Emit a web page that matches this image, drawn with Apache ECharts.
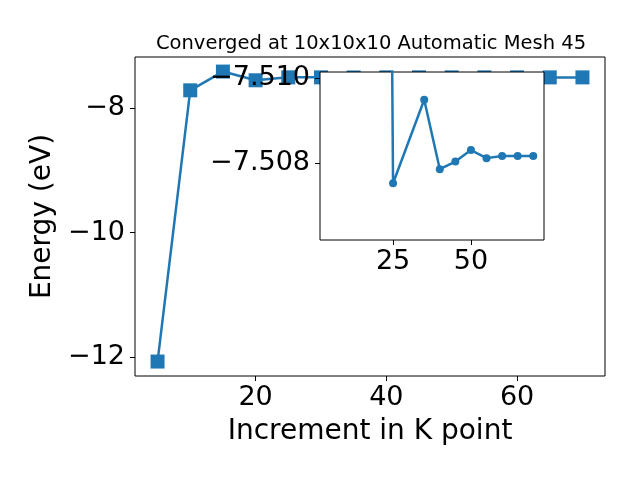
<!DOCTYPE html>
<html>
<head>
<meta charset="utf-8">
<script src="https://cdn.jsdelivr.net/npm/echarts@6/dist/echarts.min.js"></script>
<style>
  html, body { margin: 0; padding: 0; background: #fff; }
  #chart { width: 640px; height: 480px; }
</style>
</head>
<body>
<div id="chart"></div>
<script>
// main curve: energy vs K-point increment
const kPoints = [5, 10, 15, 20, 25, 30, 35, 40, 45, 50, 55, 60, 65, 70]
const energy = [-12.07, -7.716, -7.415, -7.555, -7.5075, -7.508, -7.5095, -7.5079, -7.508, -7.5083, -7.5081, -7.5082, -7.5082, -7.5082]

// inset (zoomed) curve
const insetK = [20, 25, 35, 40, 45, 50, 55, 60, 65, 70]
const insetEnergy = [-7.555, -7.50753, -7.50949, -7.50786, -7.50804, -7.50831, -7.50812, -7.50817, -7.50817, -7.50817]

// tick labels
const mainXTicks = [20, 40, 60]
const mainYTicks = [-12, -10, -8]
const insetXTicks = [25, 50]
const insetYTicks = [-7.510, -7.508]

const blue = '#1f77b4'
const font = 'DejaVu Sans'
const fs = 27      // tick labels
const nameFs = 28  // axis titles
const minus = s => String(s).replace('-', '\u2212')

const chart = echarts.init(document.getElementById('chart'))

const option = {
    backgroundColor: '#fff',
    animation: false,
    textStyle: { fontFamily: font },
    title: {
        text: 'Converged at 10x10x10 Automatic Mesh 45',
        left: 366,
        top: 29,
        textAlign: 'center',
        textStyle: { fontFamily: font, fontSize: 19.5, fontWeight: 'normal', color: '#000' }
    },
    grid: [
        // main plot
        { left: 135, top: 57, right: 35, bottom: 104, show: true, borderColor: '#000', borderWidth: 1, backgroundColor: '#fff', z: 0 },
        // inset
        { left: 320, top: 72, right: 96, bottom: 240, show: true, borderColor: '#000', borderWidth: 1, backgroundColor: '#fff', z: 10 }
    ],
    xAxis: [
        {
            gridIndex: 0, type: 'value', min: 1.55, max: 73.45,
            name: 'Increment in K point', nameLocation: 'middle', nameGap: 42,
            nameTextStyle: { fontFamily: font, fontSize: nameFs, color: '#000' },
            axisLine: { show: false },
            splitLine: { show: false },
            axisTick: { show: true, length: 5, lineStyle: { color: '#000' }, customValues: mainXTicks },
            axisLabel: { fontSize: fs, color: '#000', margin: 8, customValues: mainXTicks, formatter: v => minus(v) }
        },
        {
            gridIndex: 1, type: 'value', min: 1.55, max: 73.45, z: 11,
            axisLine: { show: false },
            splitLine: { show: false },
            axisTick: { show: true, length: 5, lineStyle: { color: '#000' }, customValues: insetXTicks },
            axisLabel: { fontSize: fs, color: '#000', margin: 8, customValues: insetXTicks, formatter: v => minus(v) }
        }
    ],
    yAxis: [
        {
            gridIndex: 0, type: 'value', min: -12.302, max: -7.181,
            name: 'Energy (eV)', nameLocation: 'middle', nameGap: 72, nameRotate: 90,
            nameTextStyle: { fontFamily: font, fontSize: nameFs, color: '#000' },
            axisLine: { show: false },
            splitLine: { show: false },
            axisTick: { show: true, length: 5, lineStyle: { color: '#000' }, customValues: mainYTicks },
            axisLabel: { fontSize: fs, color: '#000', margin: 10, customValues: mainYTicks, formatter: v => minus(v) }
        },
        {
            gridIndex: 1, type: 'value', min: -7.51014, max: -7.5062, inverse: true, z: 11,
            axisLine: { show: false },
            splitLine: { show: false },
            axisTick: { show: true, length: 5, lineStyle: { color: '#000' }, customValues: insetYTicks },
            axisLabel: { fontSize: fs, color: '#000', margin: 10, customValues: insetYTicks, formatter: v => minus(v.toFixed(3)) }
        }
    ],
    series: [
        {
            type: 'line', xAxisIndex: 0, yAxisIndex: 0, z: 2,
            data: kPoints.map((k, i) => [k, energy[i]]),
            symbol: 'rect', symbolSize: 14,
            lineStyle: { color: blue, width: 2.5 },
            itemStyle: { color: blue, borderColor: blue, borderWidth: 0 }
        },
        {
            type: 'line', xAxisIndex: 1, yAxisIndex: 1, z: 12, clip: true,
            data: insetK.map((k, i) => [k, insetEnergy[i]]),
            symbol: 'circle', symbolSize: 8,
            lineStyle: { color: blue, width: 2.5 },
            itemStyle: { color: blue, borderWidth: 0 }
        }
    ]
}

chart.setOption(option)
</script>
</body>
</html>
